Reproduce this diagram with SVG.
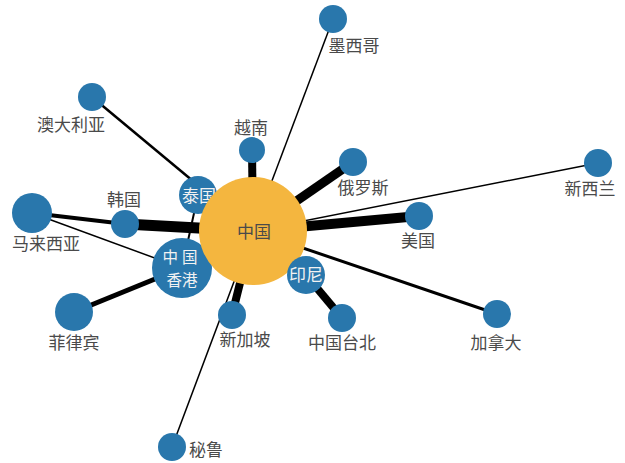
<svg xmlns="http://www.w3.org/2000/svg" width="625" height="463" viewBox="0 0 625 463">
<style>
.e{stroke:#000;stroke-linecap:butt;fill:none}
.n{fill:#2977ac}
.c{fill:#f4b63f}
text{font-family:"Noto Sans CJK SC","Noto Sans",sans-serif;font-size:17px;fill:#4a4a4a;text-anchor:middle}
.w{fill:#f2f2f2}
.hk{font-size:15.5px}
</style>
<rect width="625" height="463" fill="#fff"/>
<g id="edges">
<line class="e" x1="253" y1="231" x2="252" y2="150" stroke-width="8"/>
<line class="e" x1="253" y1="231" x2="333" y2="19" stroke-width="1.5"/>
<line class="e" x1="253" y1="231" x2="353" y2="162" stroke-width="9"/>
<line class="e" x1="253" y1="231" x2="598" y2="163" stroke-width="1.5"/>
<line class="e" x1="253" y1="231" x2="419" y2="216" stroke-width="10"/>
<line class="e" x1="253" y1="231" x2="497" y2="314" stroke-width="3"/>
<line class="e" x1="253" y1="231" x2="306" y2="275" stroke-width="4"/>
<line class="e" x1="306" y1="275" x2="342" y2="318" stroke-width="8"/>
<line class="e" x1="253" y1="231" x2="232" y2="315" stroke-width="8"/>
<line class="e" x1="253" y1="231" x2="172" y2="447" stroke-width="1.5"/>
<line class="e" x1="253" y1="231" x2="182" y2="268" stroke-width="5"/>
<line class="e" x1="182" y1="268" x2="74" y2="312" stroke-width="5"/>
<line class="e" x1="198" y1="195" x2="182" y2="268" stroke-width="2"/>
<line class="e" x1="253" y1="231" x2="92" y2="97" stroke-width="2.5"/>
<line class="e" x1="32" y1="213" x2="125" y2="224" stroke-width="4"/>
<line class="e" x1="32" y1="213" x2="182" y2="268" stroke-width="1.5"/>
<line class="e" x1="125" y1="224" x2="253" y2="231" stroke-width="11"/>
<line class="e" x1="253" y1="231" x2="198" y2="195" stroke-width="4"/>
</g>
<g id="n-mexico"><circle class="n" cx="333" cy="19" r="14"/><text x="354" y="52">墨西哥</text></g>
<g id="n-vietnam"><circle class="n" cx="252" cy="150" r="13"/><text x="251" y="134">越南</text></g>
<g id="n-australia"><circle class="n" cx="92" cy="97" r="14"/><text x="71" y="131">澳大利亚</text></g>
<g id="n-russia"><circle class="n" cx="353" cy="162" r="14"/><text x="363" y="194">俄罗斯</text></g>
<g id="n-nz"><circle class="n" cx="598" cy="163" r="14"/><text x="590" y="195">新西兰</text></g>
<g id="n-usa"><circle class="n" cx="419" cy="216" r="14"/><text x="418" y="247">美国</text></g>
<g id="n-korea"><circle class="n" cx="125" cy="224" r="14"/><text x="124" y="206">韩国</text></g>
<g id="n-malaysia"><circle class="n" cx="32" cy="213" r="20"/><text x="46" y="250">马来西亚</text></g>
<g id="n-philippines"><circle class="n" cx="74" cy="312" r="19"/><text x="74" y="349">菲律宾</text></g>
<g id="n-canada"><circle class="n" cx="497" cy="314" r="14"/><text x="496" y="349">加拿大</text></g>
<g id="n-taipei"><circle class="n" cx="342" cy="318" r="14"/><text x="342" y="349">中国台北</text></g>
<g id="n-singapore"><circle class="n" cx="232" cy="315" r="14"/><text x="245" y="346">新加坡</text></g>
<g id="n-peru"><circle class="n" cx="172" cy="447" r="14"/><text x="206" y="456">秘鲁</text></g>
<g id="n-thailand"><circle class="n" cx="198" cy="195" r="19"/><text class="w" x="199" y="202">泰国</text></g>
<g id="n-hongkong"><circle class="n" cx="182" cy="268" r="30"/><text class="w hk" x="182" y="263" letter-spacing="4">中国</text><text class="w hk" x="182" y="286">香港</text></g>
<g id="n-china"><circle class="c" cx="253" cy="231" r="54"/><text x="254" y="238">中国</text></g>
<g id="n-indonesia"><circle class="n" cx="306" cy="275" r="19"/><text class="w" x="306" y="281">印尼</text></g>
</svg>
